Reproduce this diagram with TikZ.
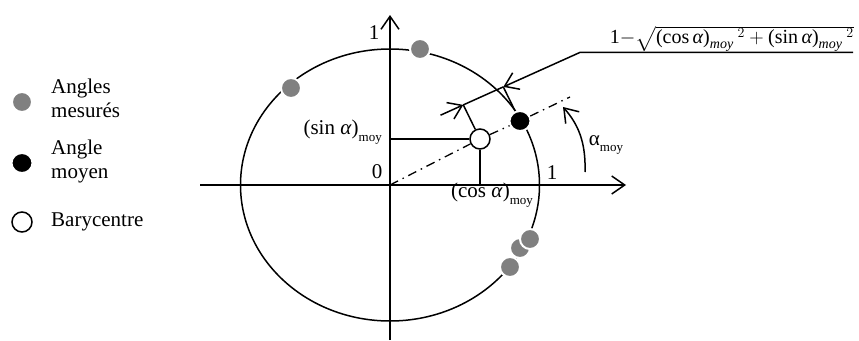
\RequirePackage{fix-cm}
\documentclass[tikz,border=0pt]{standalone}
\usepackage{amsmath}
\usepackage{fontspec}
\setmainfont{Liberation Serif}
\usetikzlibrary{arrows.meta,calc,shapes.geometric}
\tikzset{
  ln/.style={line width=1.5pt},
  >={Straight Barb[length=13pt,width=18pt]},
  lbl/.style={font=\fontsize{21}{24}\selectfont, inner sep=0pt},
  gdot/.style={circle, fill=gray, draw=white, line width=2pt, minimum size=20pt, inner sep=0pt},
  bdot/.style={ellipse, fill=black, draw=white, line width=2pt, minimum width=21pt, minimum height=20pt, inner sep=0pt},
  odot/.style={circle, fill=white, draw=black, line width=1.5pt, minimum size=20pt, inner sep=0pt},
  dashdotline/.style={line width=1.3pt, dash pattern=on 9pt off 5pt on 1.5pt off 5pt},
}
\newcommand{\sub}[1]{\raisebox{-0.3em}{\fontsize{13}{13}\selectfont #1}}
\begin{document}
\begin{tikzpicture}[x=1pt,y=-1pt]
\useasboundingbox (0,0) rectangle (859,340);
% axes
\coordinate (O) at (390,185);
\coordinate (xl) at (200,185);
\coordinate (xr) at (626,185);
\coordinate (yb) at (390,340);
\coordinate (yt) at (390,15);
\draw[ln,->] (xl) -- (xr);
\draw[ln,->] (yb) -- (yt);
% circle
\draw[ln] (O) ellipse [x radius=149.5, y radius=136];
% construction points
\coordinate (ys) at (390,139);
\coordinate (xc) at (480,185);
\coordinate (E) at (570,97);
\coordinate (P1) at (463.3,104.9);
\coordinate (P2) at (503.3,86.9);
\coordinate (A) at (440.5,115.2);
\coordinate (C) at (580,52.4);
\coordinate (F) at (853,52.4);
% points
\node[gdot] (g1) at (420,49) {};
\node[gdot] (g2) at (291,88) {};
\node[gdot] (g4) at (520,248) {};
\node[gdot] (g3) at (530,239) {};
\node[gdot] (g5) at (510,267) {};
\node[bdot] (blk) at (520,121) {};
\node[odot] (bary) at (480,139) {};
% lines
\draw[dashdotline] (O) -- (bary);
\draw[dashdotline] (bary) -- (blk);
\draw[dashdotline] (blk) -- (E);
\draw[ln] (ys) -- (bary);
\draw[ln] (bary) -- (xc);
\draw[ln] (bary) -- (P1);
\draw[ln] (blk) -- (P2);
\draw[ln,->] (A) -- (P1);
\draw[ln] (P1) -- (P2);
\draw[ln,<-] (P2) -- (C) -- (F);
% angle arc
\coordinate (a0) at (585,172);
\coordinate (a1) at (563,107);
\draw[ln,->] (a0) .. controls (586,142) and (578,124) .. (a1);
% labels
\node[lbl] (one1) at (374,33) {1};
\node[lbl] (zero) at (377,172) {0};
\node[lbl] (one2) at (552,173) {1};
\node[lbl, anchor=east] (sinl) at (382,132) {(sin \textit{α})\sub{moy}};
\node[lbl] (cosl) at (492,195) {(cos \textit{α})\sub{moy}};
\node[lbl] (alab) at (606,145) {α\sub{moy}};
\node[lbl, anchor=south east] (form) at (854,52) {\fontsize{20}{24}\selectfont$\text{1}{-}\sqrt{\text{(cos\,}\textit{α}\text{)}_{\textit{moy}}{}^{\;2}+\text{(sin\,}\textit{α}\text{)}_{\textit{moy}}{}^{\;2}}$};
% legend
\node[gdot] (lg) at (22,102) {};
\node[bdot] (lb) at (22,163) {};
\node[odot] (lo) at (22,222) {};
\node[lbl, anchor=west, align=left] (tg) at (51,98) {Angles\\mesurés};
\node[lbl, anchor=west, align=left] (tb) at (51,161) {Angle\\moyen};
\node[lbl, anchor=west] (to) at (51,222) {Barycentre};
\end{tikzpicture}
\end{document}
